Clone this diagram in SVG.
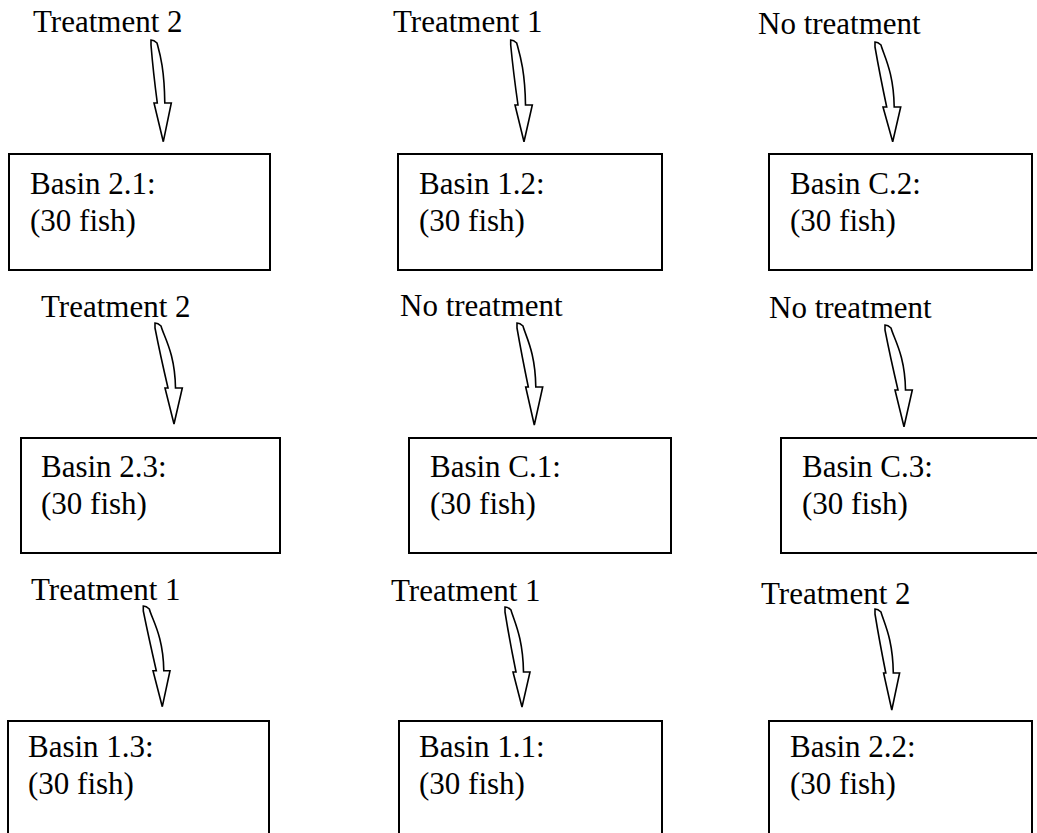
<svg xmlns="http://www.w3.org/2000/svg" width="1037" height="833" viewBox="0 0 1037 833">
<style>
text{font-family:"Liberation Serif","Times New Roman",serif;font-size:31px;fill:#000}
.box{fill:#fff;stroke:#000;stroke-width:2}
.arr{fill:#fff;stroke:#000;stroke-width:1.6;stroke-linejoin:miter}
</style>
<rect width="1037" height="833" fill="#fff"/>
<g id="labels">
<text x="33" y="32">Treatment 2</text>
<text x="393" y="32">Treatment 1</text>
<text x="758" y="34">No treatment</text>
<text x="41" y="317">Treatment 2</text>
<text x="400" y="316">No treatment</text>
<text x="769" y="318">No treatment</text>
<text x="31" y="600">Treatment 1</text>
<text x="391" y="601">Treatment 1</text>
<text x="761" y="604">Treatment 2</text>
</g>
<g id="connectors">
<path class="arr" d="M151,45 Q153.2,72 157.3,103 L154,103 L163.3,141.7 L171.3,103 L164.8,103 C164.3,68 160,54 157,43 Q154,40 151,40 Z"/>
<path class="arr" d="M510.7,45 Q513.4,73 518,105 L515,105 L524,141.7 L532.3,105 L525.5,105 C525,70 519.7,54 516.7,43 Q513.7,40 510.7,40 Z"/>
<path class="arr" d="M875,47 Q879.9,75 886.7,107 L883,107 L892.7,141.7 L900.7,107 L894.2,107 C893.7,72 884,56 881,45 Q878,42 875,42 Z"/>
<path class="arr" d="M155,328 Q160.5,356 168,388 L165,388 L174,424 L182.3,388 L175.5,388 C175,353 164,337 161,326 Q158,323 155,323 Z"/>
<path class="arr" d="M517,328 Q521.7,355 528.3,387 L525.7,387 L534.3,425 L542.7,387 L535.8,387 C535.3,352 526,337 523,326 Q520,323 517,323 Z"/>
<path class="arr" d="M885,330 Q890.5,358 898,390 L895,390 L904,426.7 L912.3,390 L905.5,390 C905,355 894,339 891,328 Q888,325 885,325 Z"/>
<path class="arr" d="M143.3,611 Q148.8,638 156.3,670.7 L153,670.7 L162.3,706.7 L170,670.7 L163.8,670.7 C163.3,636 152.3,620 149.3,609 Q146.3,606 143.3,606 Z"/>
<path class="arr" d="M505,612 Q509.5,640 516,672 L513,672 L522,707 L530,672 L523.5,672 C523,637 514,621 511,610 Q508,607 505,607 Z"/>
<path class="arr" d="M875,614 Q879.4,641 885.8,673 L883.6,673 L891.8,710 L899.6,673 L893.3,673 C892.8,638 884,623 881,612 Q878,609 875,609 Z"/>
</g>
<g id="basin21"><rect class="box" x="9" y="154" width="261" height="116"/><text x="30" y="194">Basin 2.1:</text><text x="30" y="231">(30 fish)</text></g>
<g id="basin12"><rect class="box" x="398" y="154" width="264" height="116"/><text x="419" y="194">Basin 1.2:</text><text x="419" y="231">(30 fish)</text></g>
<g id="basinC2"><rect class="box" x="769" y="154" width="263" height="116"/><text x="790" y="194">Basin C.2:</text><text x="790" y="231">(30 fish)</text></g>
<g id="basin23"><rect class="box" x="21" y="438" width="259" height="115"/><text x="41" y="477">Basin 2.3:</text><text x="41" y="514">(30 fish)</text></g>
<g id="basinC1"><rect class="box" x="409" y="438" width="262" height="115"/><text x="430" y="477">Basin C.1:</text><text x="430" y="514">(30 fish)</text></g>
<g id="basinC3"><rect class="box" x="781" y="438" width="280" height="115"/><text x="802" y="477">Basin C.3:</text><text x="802" y="514">(30 fish)</text></g>
<g id="basin13"><rect class="box" x="8" y="721" width="261" height="140"/><text x="28" y="757">Basin 1.3:</text><text x="28" y="794">(30 fish)</text></g>
<g id="basin11"><rect class="box" x="399" y="721" width="263" height="140"/><text x="419" y="757">Basin 1.1:</text><text x="419" y="794">(30 fish)</text></g>
<g id="basin22"><rect class="box" x="769" y="721" width="263" height="140"/><text x="790" y="757">Basin 2.2:</text><text x="790" y="794">(30 fish)</text></g>
</svg>
